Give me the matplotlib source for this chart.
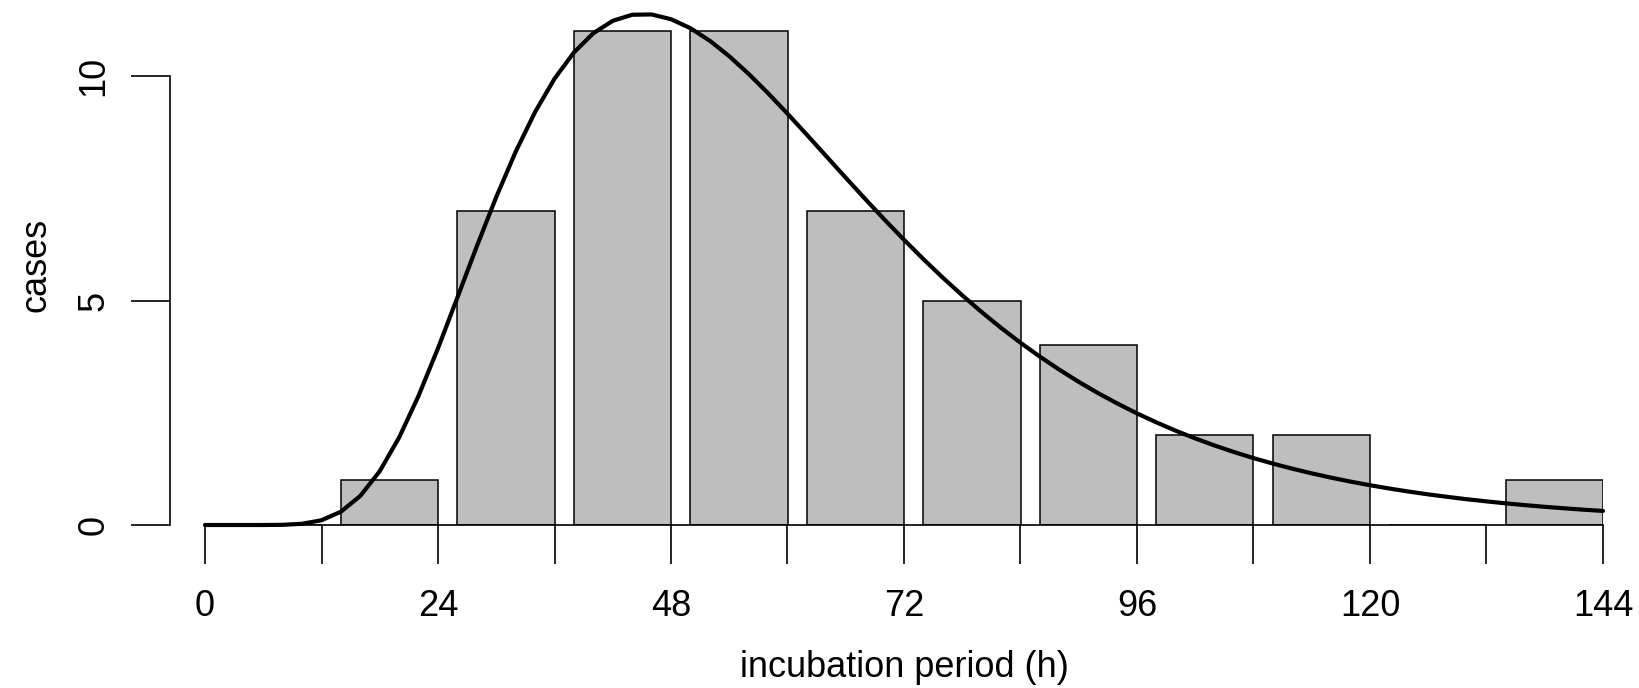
import numpy as np
import matplotlib
matplotlib.use("Agg")
import matplotlib.pyplot as plt

plt.rcParams['font.family'] = ['Liberation Sans', 'DejaVu Sans']

# case counts per 12 h bin (0-12, 12-24, ..., 132-144)
bin_start = [0, 12, 24, 36, 48, 60, 72, 84, 96, 108, 120, 132]
cases = [0, 1, 7, 11, 11, 7, 5, 4, 2, 2, 0, 1]

# fitted density curve, scaled to counts, sampled every 2 h
curve_h = list(range(0, 146, 2))
curve_cases = [0.000, 0.000, 0.000, 0.000, 0.004, 0.027, 0.106, 0.296, 0.649, 1.199,
               1.951, 2.879, 3.937, 5.067, 6.208, 7.305, 8.313, 9.198, 9.939, 10.524,
               10.953, 11.229, 11.364, 11.371, 11.265, 11.065, 10.784, 10.440, 10.047, 9.616,
               9.161, 8.690, 8.212, 7.734, 7.262, 6.800, 6.352, 5.921, 5.508, 5.115,
               4.742, 4.390, 4.059, 3.749, 3.459, 3.188, 2.936, 2.703, 2.486, 2.285,
               2.099, 1.928, 1.770, 1.624, 1.490, 1.367, 1.254, 1.150, 1.054, 0.966,
               0.886, 0.812, 0.744, 0.682, 0.626, 0.573, 0.526, 0.482, 0.442, 0.405,
               0.372, 0.341, 0.313]

xticks = [0, 24, 48, 72, 96, 120, 144]
yticks = [0, 5, 10]

W, H = 1639, 688
fig = plt.figure(figsize=(W / 100, H / 100), dpi=100)
ax = fig.add_axes([205 / W, 1 - 525 / H, (1603 - 205) / W, (525 - 76) / H * 1.16])
ax.set_xlim(0, 144)
ax.set_ylim(0, 11.6)

# barplot style: bar width 10 h, 2 h gap before each bar
ax.bar([b + 2 for b in bin_start], cases, width=10, align='edge',
       color='#bebebe', edgecolor='black', linewidth=1.1, zorder=2)
ax.plot(curve_h, curve_cases, color='black', linewidth=3.0, clip_on=False,
        solid_joinstyle='round', solid_capstyle='round', zorder=3)

for s in ['top', 'right']:
    ax.spines[s].set_visible(False)
ax.spines['left'].set_bounds(0, 10)
ax.spines['left'].set_position(('outward', 25.2))
ax.spines['bottom'].set_bounds(0, 144)
for s in ['left', 'bottom']:
    ax.spines[s].set_linewidth(1.2)

ax.set_xticks(bin_start + [144])
ax.set_xticklabels([str(t) if t in xticks else '' for t in bin_start + [144]])
ax.set_yticks(yticks)
ax.set_yticklabels([str(t) for t in yticks], rotation=90, va='center')
ax.tick_params(axis='both', length=28, width=1.2, labelsize=26)
ax.tick_params(axis='x', pad=18)
ax.tick_params(axis='y', pad=14)

ax.set_xlabel('incubation period (h)', fontsize=26, labelpad=19)
ax.set_ylabel('cases', fontsize=26, labelpad=17)

fig.savefig('out.png', dpi=100)
